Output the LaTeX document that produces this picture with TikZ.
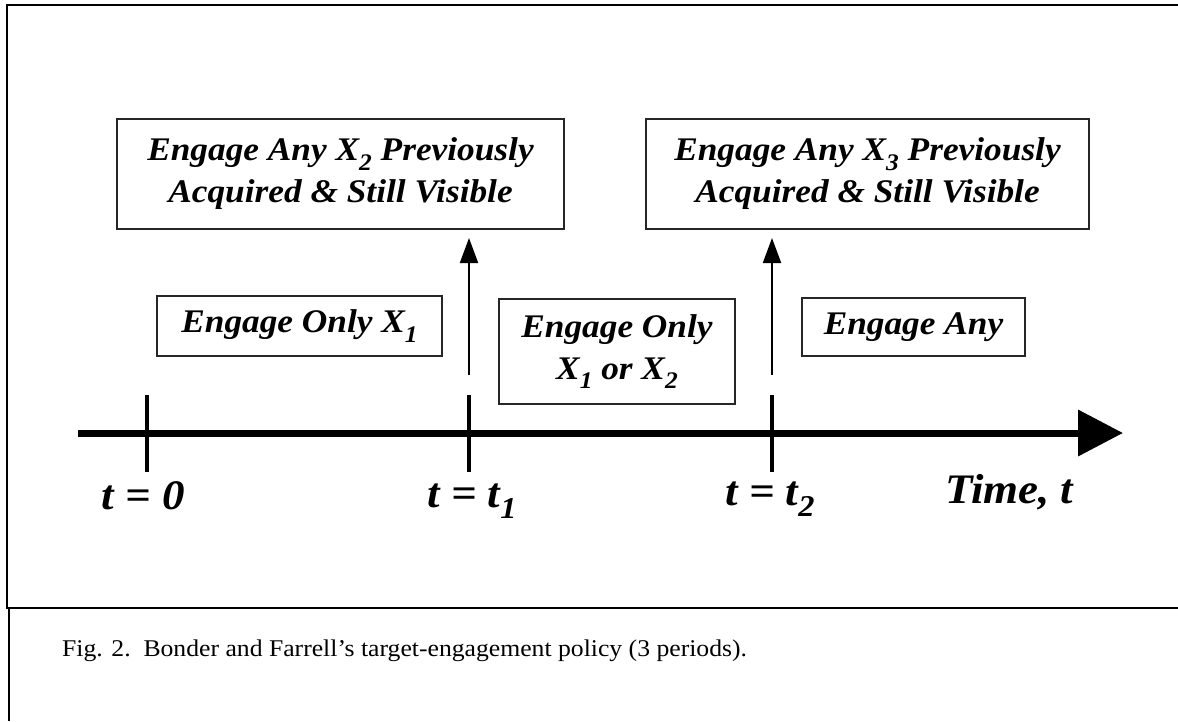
\documentclass[tikz,border=0pt]{standalone}
\usepackage{fontspec}
\setmainfont{Liberation Serif}[FakeStretch=1.07]
\usetikzlibrary{arrows.meta}
\newcommand\sbs[1]{\raisebox{-0.28em}{\scalebox{0.72}{#1}}}
\tikzset{
  frameline/.style={line width=2pt, draw=black},
  box/.style={draw=black!85, line width=1.3pt, inner sep=0pt, align=center,
    font=\bfseries\itshape\fontsize{33}{42}\selectfont},
  lbl/.style={inner sep=0pt, font=\bfseries\itshape\fontsize{42}{44}\selectfont},
  tickline/.style={line width=4pt},
  axisline/.style={line width=7pt, -{Triangle[width=45pt,length=45pt]}},
  uparrow/.style={line width=2pt, -{Triangle[width=18pt,length=25pt]}},
}
\begin{document}
\begin{tikzpicture}[x=1pt,y=-1pt]
\useasboundingbox (0,0) rectangle (1178,721);
% frame
\draw[frameline] (1178,5) -- (7,5) -- (7,608) -- (1178,608);
\draw[frameline] (9,608) -- (9,721);
% boxes
\node[box, minimum width=447pt, minimum height=110pt] (a) at (340.5,174)
  {Engage Any X\sbs{2} Previously\\Acquired \& Still Visible};
\node[box, minimum width=443pt, minimum height=110pt] (b) at (867.5,174)
  {Engage Any X\sbs{3} Previously\\Acquired \& Still Visible};
\node[box, minimum width=285pt, minimum height=60pt] (c) at (299.5,326)
  {Engage Only X\sbs{1}};
\node[box, minimum width=236pt, minimum height=105pt] (d) at (617,351.5)
  {Engage Only\\X\sbs{1} or X\sbs{2}};
\node[box, minimum width=223pt, minimum height=58pt] (e) at (913.5,327)
  {Engage Any};
% axis
\coordinate (axs) at (78,433);
\coordinate (axe) at (1123,433);
\draw[axisline] (axs) -- (axe);
% ticks
\coordinate (t0a) at (147,395); \coordinate (t0b) at (147,472);
\coordinate (t1a) at (469,395); \coordinate (t1b) at (469,472);
\coordinate (t2a) at (772,395); \coordinate (t2b) at (772,472);
\draw[tickline] (t0a) -- (t0b);
\draw[tickline] (t1a) -- (t1b);
\draw[tickline] (t2a) -- (t2b);
% arrows
\coordinate (p1) at (469,375); \coordinate (q1) at (469,238);
\coordinate (p2) at (772,375); \coordinate (q2) at (772,238);
\draw[uparrow] (p1) -- (q1);
\draw[uparrow] (p2) -- (q2);
% labels
\node[lbl, anchor=base] (l0) at (143,509) {t = 0};
\node[lbl, anchor=base] (l1) at (472,507) {t = t\sbs{1}};
\node[lbl, anchor=base] (l2) at (770,505) {t = t\sbs{2}};
\node[lbl, anchor=base west] (lt) at (945,503) {Time, t};
% caption
\node[inner sep=0pt, anchor=base west, font=\fontsize{24}{26}\selectfont] (cap) at (62,656)
  {Fig. 2.\ \ Bonder and Farrell’s target-engagement policy (3 periods).};
\end{tikzpicture}
\end{document}
